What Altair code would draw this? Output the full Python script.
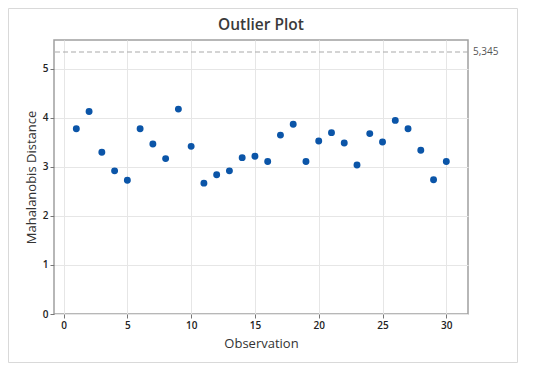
import altair as alt
import pandas as pd

observation = list(range(1, 31))
distance = [3.78, 4.13, 3.30, 2.92, 2.73, 3.78, 3.47, 3.17, 4.18, 3.42,
            2.67, 2.84, 2.92, 3.19, 3.22, 3.11, 3.65, 3.87, 3.11, 3.53,
            3.70, 3.49, 3.04, 3.68, 3.51, 3.95, 3.78, 3.34, 2.74, 3.11]
threshold = [5.345]
threshold_label = ["5,345"]
x_ticks = [0, 5, 10, 15, 20, 25, 30]
y_ticks = [0, 1, 2, 3, 4, 5]
title_text = ["Outlier Plot"]

df = pd.DataFrame({"Observation": observation, "Distance": distance})
tdf = pd.DataFrame({"t": threshold, "label": threshold_label})

W, H = 414, 274
FONT = "Open Sans"

xscale = alt.Scale(domain=[-0.75, 31.7], nice=False, zero=False)
yscale = alt.Scale(domain=[0, 5.59], nice=False)

border = alt.Chart(pd.DataFrame({"a": [0]})).mark_rect(
    fillOpacity=0, stroke="#d9d9d9", strokeWidth=1
).encode(
    x=alt.value(-45.5), x2=alt.value(W + 49.5),
    y=alt.value(-31.5), y2=alt.value(H + 48.5)
)

title = alt.Chart(pd.DataFrame({"title": title_text})).mark_text(
    align="center", baseline="alphabetic", fontSize=15.5, font=FONT,
    fontWeight=600, color="#3a3a3a"
).encode(x=alt.value(W / 2), y=alt.value(-10), text="title:N")

points = alt.Chart(df).mark_circle(size=48, color="#0B55A8", opacity=1).encode(
    x=alt.X("Observation:Q", scale=xscale,
            axis=alt.Axis(values=x_ticks, title="Observation", format="d")),
    y=alt.Y("Distance:Q", scale=yscale,
            axis=alt.Axis(values=y_ticks, title="Mahalanobis Distance", format="d")),
)

rule = alt.Chart(tdf).mark_rule(color="#aaaaaa", strokeDash=[5, 3], strokeWidth=1.2).encode(
    y=alt.Y("t:Q", scale=yscale)
)

label = alt.Chart(tdf).mark_text(
    align="left", baseline="middle", fontSize=10, font=FONT, color="#555555", dx=0
).encode(
    x=alt.value(W + 5), y=alt.Y("t:Q", scale=yscale), text="label:N"
)

chart = alt.layer(border, title, rule, points, label).properties(
    width=W, height=H,
    autosize=alt.AutoSizeParams(type="none"),
    padding={"left": 46, "top": 32, "right": 60, "bottom": 50},
).configure_view(
    stroke="#a0a0a0", strokeWidth=1.5
).configure_axis(
    labelFont=FONT, titleFont=FONT, labelFontSize=10, titleFontSize=13,
    titleFontWeight=500, labelFontWeight=600, labelColor="#222222",
    titleColor="#333333",
    gridColor="#e6e6e6", gridWidth=1, domain=False,
    tickColor="#777777", tickSize=4, labelPadding=2,
).configure_axisX(
    titlePadding=7
).configure_axisY(
    titlePadding=4
)

chart.save("out.html", embed_options={"renderer": "svg", "actions": False})
